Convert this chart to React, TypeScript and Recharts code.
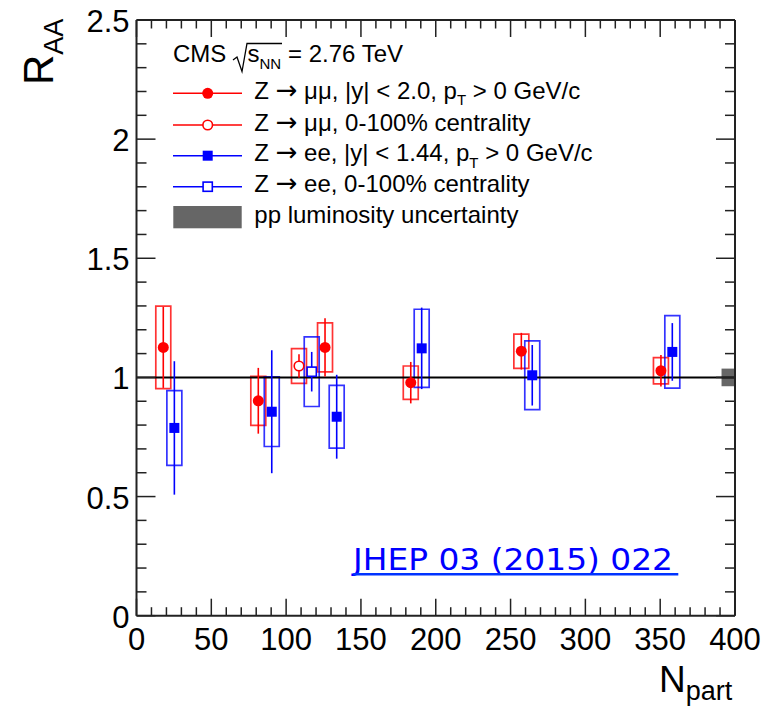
import React from 'react';
import {
  ComposedChart,
  Scatter,
  XAxis,
  YAxis,
  ErrorBar,
  ReferenceArea,
  ReferenceLine,
} from 'recharts';

// Z -> mu mu, |y| < 2.0, in centrality bins
const muNpart = [17.9, 81.4, 126.0, 183.3, 257.2, 350.5];
const muRaa = [1.126, 0.902, 1.126, 0.978, 1.11, 1.028];
const muStat = [0.17, 0.138, 0.122, 0.087, 0.077, 0.066];
const muSyst = [0.173, 0.103, 0.103, 0.07, 0.072, 0.055];

// Z -> mu mu, 0-100% centrality
const muMbNpart = [108.6];
const muMbRaa = [1.048];
const muMbStat = [0.049];
const muMbSyst = [0.073];

// Z -> ee, |y| < 1.44, in centrality bins
const eeNpart = [25.3, 90.4, 133.8, 190.6, 264.5, 358.1];
const eeRaa = [0.788, 0.856, 0.835, 1.122, 1.009, 1.107];
const eeStat = [0.28, 0.258, 0.176, 0.171, 0.127, 0.121];
const eeSyst = [0.157, 0.146, 0.132, 0.164, 0.144, 0.152];

// Z -> ee, 0-100% centrality
const eeMbNpart = [117.1];
const eeMbRaa = [1.024];
const eeMbStat = [0.083];
const eeMbSyst = [0.146];

// pp luminosity uncertainty, drawn at the right edge around R_AA = 1
const lumiUnc = 0.037;
const lumiNpart = [391, 400];

const xMajorLabels = [0, 50, 100, 150, 200, 250, 300, 350, 400];
const yMajorLabels = [0, 0.5, 1, 1.5, 2, 2.5];
const xTicks = Array.from({ length: 41 }, (_, i) => i * 10);
const yTicks = Array.from({ length: 26 }, (_, i) => i / 10);

const legendRows = [
  { kind: 'muFilled', text: ['Z ', '\u2192', ' \u03bc\u03bc, |y| < 2.0, p', 'T', ' > 0 GeV/c'] },
  { kind: 'muOpen', text: ['Z ', '\u2192', ' \u03bc\u03bc, 0-100% centrality'] },
  { kind: 'eeFilled', text: ['Z ', '\u2192', ' ee, |y| < 1.44, p', 'T', ' > 0 GeV/c'] },
  { kind: 'eeOpen', text: ['Z ', '\u2192', ' ee, 0-100% centrality'] },
];

const W = 779;
const H = 707;
const FONT = '"Liberation Sans", Arial, Helvetica, sans-serif';
const FRAME = '#222';
const RED = '#ff0000';
const BLUE = '#0000ff';
const BOX_HALF = 5;
const LEG_FONT = 24;

const toPoints = (n: number[], r: number[], stat: number[]) =>
  n.map((v, i) => ({ n: v, r: r[i], stat: stat[i] }));

const muPoints = toPoints(muNpart, muRaa, muStat);
const muMbPoints = toPoints(muMbNpart, muMbRaa, muMbStat);
const eePoints = toPoints(eeNpart, eeRaa, eeStat);
const eeMbPoints = toPoints(eeMbNpart, eeMbRaa, eeMbStat);

const isMajorX = (v: number) => xMajorLabels.includes(v);
const majorY = (v: number) => yMajorLabels.find((m) => Math.abs(m - v) < 1e-6);

const BottomTick = ({ x, y, payload }: any) => {
  const major = isMajorX(payload.value);
  return (
    <g>
      <line x1={x} y1={y} x2={x} y2={y - (major ? 17 : 8.5)} stroke={FRAME} strokeWidth={1.5} />
      {major && (
        <text x={x} y={y + 34.5} textAnchor="middle" fontSize={31} fontFamily={FONT} fill="#000">
          {payload.value}
        </text>
      )}
    </g>
  );
};

const TopTick = ({ x, y, payload }: any) => {
  const major = isMajorX(payload.value);
  return <line x1={x} y1={y} x2={x} y2={y + (major ? 17 : 8.5)} stroke={FRAME} strokeWidth={1.5} />;
};

const LeftTick = ({ x, y, payload }: any) => {
  const label = majorY(payload.value);
  const major = label !== undefined;
  return (
    <g>
      <line x1={x} y1={y} x2={x + (major ? 19 : 10)} y2={y} stroke={FRAME} strokeWidth={1.5} />
      {major && (
        <text x={x - 7} y={y + 12} textAnchor="end" fontSize={31} fontFamily={FONT} fill="#000">
          {String(label)}
        </text>
      )}
    </g>
  );
};

const RightTick = ({ x, y, payload }: any) => {
  const major = majorY(payload.value) !== undefined;
  return <line x1={x} y1={y} x2={x - (major ? 19 : 10)} y2={y} stroke={FRAME} strokeWidth={1.5} />;
};

const filledCircle = (color: string) => (p: any) =>
  <circle cx={p.cx} cy={p.cy} r={5.5} fill={color} />;
const openCircle = (color: string) => (p: any) =>
  <circle cx={p.cx} cy={p.cy} r={4.8} fill="#fff" stroke={color} strokeWidth={1.6} />;
const filledSquare = (color: string) => (p: any) =>
  <rect x={p.cx - 5} y={p.cy - 5} width={10} height={10} fill={color} />;
const openSquare = (color: string) => (p: any) =>
  <rect x={p.cx - 4.6} y={p.cy - 4.6} width={9.2} height={9.2} fill="#fff" stroke={color} strokeWidth={1.6} />;

const systBoxes = (n: number[], r: number[], syst: number[], color: string, key: string) =>
  n.map((v, i) => (
    <ReferenceArea
      key={`${key}-${i}`}
      x1={v - BOX_HALF}
      x2={v + BOX_HALF}
      y1={r[i] - syst[i]}
      y2={r[i] + syst[i]}
      fill="none"
      fillOpacity={0}
      stroke={color}
      strokeWidth={1.7}
      strokeOpacity={0.8}
      ifOverflow="visible"
    />
  ));

function LegendMarker({ kind, cx, cy }: { kind: string; cx: number; cy: number }) {
  const color = kind.startsWith('mu') ? RED : BLUE;
  const p = { cx, cy };
  let marker;
  if (kind === 'muFilled') marker = filledCircle(color)(p);
  else if (kind === 'muOpen') marker = openCircle(color)(p);
  else if (kind === 'eeFilled') marker = filledSquare(color)(p);
  else marker = openSquare(color)(p);
  return (
    <g>
      <line x1={173} y1={cy} x2={242} y2={cy} stroke={color} strokeWidth={1.5} />
      {marker}
    </g>
  );
}

function Overlay() {
  const rowY = [93.3, 125, 155.7, 186.7];
  return (
    <svg
      width={W}
      height={H}
      style={{ position: 'absolute', left: 0, top: 0, pointerEvents: 'none' }}
      fontFamily={FONT}
    >
      {/* y axis title */}
      <text transform="translate(53,85) rotate(-90)" fontSize={42} fill="#000">
        R
        <tspan fontSize={27} dy={10}>AA</tspan>
      </text>
      {/* x axis title */}
      <text x={659} y={691.7} fontSize={37} fill="#000">
        N
        <tspan fontSize={27} dy={8}>part</tspan>
      </text>

      {/* legend header */}
      <text x={173} y={62.3} fontSize={LEG_FONT} fill="#000">CMS</text>
      <path d="M233 60 L237 57 L242 71.5 L247 43.5 L282 43.5" fill="none" stroke="#000" strokeWidth={1.3} />
      <text x={247.5} y={62.3} fontSize={LEG_FONT} fill="#000">
        s<tspan fontSize={15} dy={7}>NN</tspan>
      </text>
      <text x={288} y={62.3} fontSize={LEG_FONT} fill="#000">= 2.76 TeV</text>

      {legendRows.map((row, i) => (
        <g key={row.kind}>
          <LegendMarker kind={row.kind} cx={207.7} cy={rowY[i]} />
          <text x={254.3} y={rowY[i] + 5.5} fontSize={LEG_FONT} fill="#000">
            {row.text[0]}
            <tspan fontFamily='"DejaVu Sans", sans-serif' fontSize={26}>{row.text[1]}</tspan>
            <tspan>{row.text[2]}</tspan>
            {row.text.length > 3 && (
              <>
                <tspan fontSize={15} dy={6.5}>{row.text[3]}</tspan>
                <tspan dy={-6.5}>{row.text[4]}</tspan>
              </>
            )}
          </text>
        </g>
      ))}
      <rect x={173.3} y={206} width={68.4} height={22.3} fill="#666" />
      <text x={254.3} y={222.5} fontSize={LEG_FONT} fill="#000">pp luminosity uncertainty</text>

      {/* reference link */}
      <text
        x={353}
        y={570}
        fontSize={31}
        fontFamily='"DejaVu Sans", Verdana, sans-serif'
        fill="#0000ff"
        textLength={320}
        lengthAdjust="spacingAndGlyphs"
      >
        JHEP 03 (2015) 022
      </text>
      <line x1={353.3} y1={574.3} x2={678.3} y2={574.3} stroke="#0033ff" strokeWidth={2.5} />
    </svg>
  );
}

export default function App() {
  const axisLine = { stroke: FRAME, strokeWidth: 2 };
  return (
    <div style={{ position: 'absolute', left: 0, top: 0, width: W, height: H, background: '#fff' }}>
      <ComposedChart
        width={W}
        height={H}
        margin={{ top: 19, right: W - 735 - 1, bottom: H - 615.7 - 1, left: 135.5 }}
      >
        <XAxis
          dataKey="n"
          type="number"
          domain={[0, 400]}
          ticks={xTicks}
          interval={0}
          height={1}
          tickSize={0}
          tickMargin={0}
          tickLine={false}
          axisLine={axisLine}
          tick={BottomTick}
          allowDataOverflow
        />
        <XAxis
          xAxisId="top"
          orientation="top"
          dataKey="n"
          type="number"
          domain={[0, 400]}
          ticks={xTicks}
          interval={0}
          height={1}
          tickSize={0}
          tickMargin={0}
          tickLine={false}
          axisLine={axisLine}
          tick={TopTick}
          allowDataOverflow
        />
        <YAxis
          dataKey="r"
          type="number"
          domain={[0, 2.5]}
          ticks={yTicks}
          interval={0}
          width={1}
          tickSize={0}
          tickMargin={0}
          tickLine={false}
          axisLine={axisLine}
          tick={LeftTick}
          allowDataOverflow
        />
        <YAxis
          yAxisId="right"
          orientation="right"
          dataKey="r"
          type="number"
          domain={[0, 2.5]}
          ticks={yTicks}
          interval={0}
          width={1}
          tickSize={0}
          tickMargin={0}
          tickLine={false}
          axisLine={axisLine}
          tick={RightTick}
          allowDataOverflow
        />

        <ReferenceLine y={1} stroke="#000" strokeWidth={2} />
        <ReferenceArea
          x1={lumiNpart[0]}
          x2={lumiNpart[1]}
          y1={1 - lumiUnc}
          y2={1 + lumiUnc}
          fill="#666"
          fillOpacity={1}
          stroke="none"
        />

        {systBoxes(muNpart, muRaa, muSyst, RED, 'mu')}
        {systBoxes(muMbNpart, muMbRaa, muMbSyst, RED, 'mumb')}
        {systBoxes(eeNpart, eeRaa, eeSyst, BLUE, 'ee')}
        {systBoxes(eeMbNpart, eeMbRaa, eeMbSyst, BLUE, 'eemb')}

        <Scatter data={muPoints} dataKey="r" shape={filledCircle(RED)} isAnimationActive={false}>
          <ErrorBar dataKey="stat" direction="y" width={0} stroke={RED} strokeWidth={1.6} />
        </Scatter>
        <Scatter data={muMbPoints} dataKey="r" shape={openCircle(RED)} isAnimationActive={false}>
          <ErrorBar dataKey="stat" direction="y" width={0} stroke={RED} strokeWidth={1.6} />
        </Scatter>
        <Scatter data={eePoints} dataKey="r" shape={filledSquare(BLUE)} isAnimationActive={false}>
          <ErrorBar dataKey="stat" direction="y" width={0} stroke={BLUE} strokeWidth={1.6} />
        </Scatter>
        <Scatter data={eeMbPoints} dataKey="r" shape={openSquare(BLUE)} isAnimationActive={false}>
          <ErrorBar dataKey="stat" direction="y" width={0} stroke={BLUE} strokeWidth={1.6} />
        </Scatter>
      </ComposedChart>
      <Overlay />
    </div>
  );
}
